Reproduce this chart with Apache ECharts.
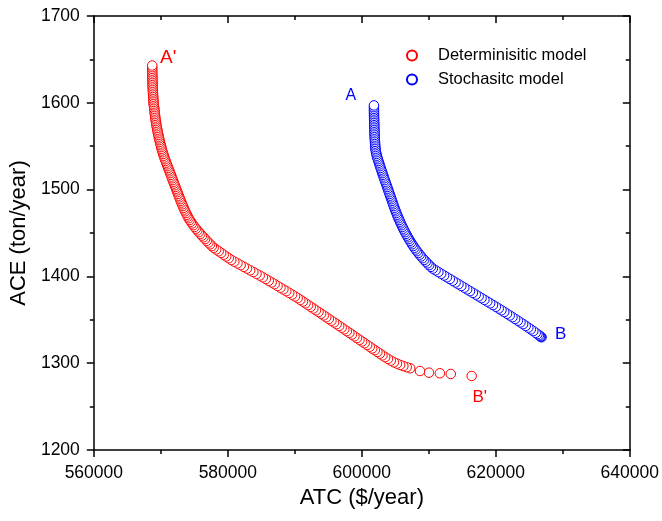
<!DOCTYPE html>
<html>
<head>
<meta charset="utf-8">
<script src="https://cdn.jsdelivr.net/npm/echarts@6/dist/echarts.min.js"></script>
<style>html,body{margin:0;padding:0;background:#fff;}#c{width:662px;height:521px;}</style>
</head>
<body>
<div id="c"></div>
<script>
// Axis settings
const xMin = 560000, xMax = 640000, xStep = 20000;
const yMin = 1200, yMax = 1700, yStep = 100;
const seriesNames = ['Determinisitic model', 'Stochasitc model'];
const endLabels = { det: ["A'", "B'"], sto: ['A', 'B'] };

// Deterministic model points [ATC, ACE], from A' (top) to B'
const deterministic = [
[568710,1643],[568712,1641],[568715,1639],[568718,1637],[568722,1635],[568727,1633],[568732,1631],[568738,1629],[568745,1627],[568752,1625],[568760,1623],[568770,1621],[568780,1619],[568790,1617],[568802,1615],[568815,1613],[568828,1611],[568842,1609],[568857,1607],[568873,1605],[568890,1603],[568908,1601],[568926,1599],[568950,1597],
[569000,1595],[569025,1593],[569052,1591],[569080,1589],[569110,1587],[569142,1585],[569176,1583],[569212,1581],[569250,1579],[569290,1577],[569332,1575],[569376,1573],[569422,1571],[569470,1569],[569520,1567],[569572,1565],[569626,1563],[569682,1561],[569740,1559],[569800,1557],[569862,1555],[569926,1553],[569992,1551],[570060,1549],[570130,1547],[570202,1545],[570276,1543],[570352,1541],
[570440,1539],[570530,1537],[570622,1535],[570715,1533],[570810,1531],[570906,1529],[571003,1527],[571100,1525],[571198,1523],[571296,1521],[571394,1519],[571492,1517],[571590,1515],[571688,1513],[571786,1511],[571884,1509],[571982,1507],[572080,1505],[572178,1503],[572276,1501],[572374,1499],[572472,1497],[572570,1495],[572670,1493],[572770,1491],[572872,1489],[572975,1487],[573080,1485],[573186,1483],[573295,1481],[573406,1479],[573520,1477],[573638,1475],[573760,1473],
[573886,1471],[574020,1469],[574165,1467],[574320,1465],[574485,1463],[574660,1461],[574845,1459],[575040,1457],[575245,1455],[575460,1453],[575680,1451],[575905,1449],[576135,1447],[576370,1445],[576610,1443],[576855,1441],[577105,1439],[577360,1437],[577620,1435],[577890,1433],
[578270,1431],[578640,1429],[579010,1427],[579385,1425],[579760,1423],[580140,1421],[580520,1419],[580975,1417],[581440,1415],[581910,1413],[582385,1411],[582860,1409],[583335,1407],[583810,1405],[584285,1403],[584760,1401],[585230,1399],[585670,1397],[586110,1395],[586550,1393],[586990,1391],[587425,1389],[587860,1387],[588295,1385],[588730,1383],[589165,1381],[589600,1379],[590035,1377],[590430,1375],[590820,1373],[591210,1371],[591600,1369],[591990,1367],[592380,1365],[592770,1363],[593160,1361],[593545,1359],[593930,1357],[594315,1355],[594700,1353],[595085,1351],[595470,1349],[595855,1347],[596240,1345],[596620,1343],[597000,1341],[597380,1339],[597760,1337],[598140,1335],[598520,1333],[598900,1331],[599280,1329],[599660,1327],[600040,1325],[600420,1323],[600800,1321],[601180,1319],[601560,1317],[601940,1315],[602320,1313],[602700,1311],
[603090,1309],[603490,1307],[603900,1305],[604330,1303],[604790,1301],[605250,1299.5],[605720,1298],[606200,1296.7],[606700,1295.4],[607220,1294.2],[608680,1291.0],[610020,1289.1],[611650,1288.4],[613280,1287.6],[616400,1285.3]
];

// Stochastic model points [ATC, ACE], from A (top) to B
const stochastic = [
[601810,1597],[601811,1595],[601813,1593],[601815,1591],[601818,1589],[601821,1587],[601825,1585],[601829,1583],[601834,1581],[601839,1579],[601845,1577],[601852,1575],[601860,1573],[601868,1571],[601877,1569],[601887,1567],[601898,1565],[601910,1563],[601922,1561],[601936,1559],[601950,1557],[601965,1555],[601981,1553],[601998,1551],[602016,1549],
[602040,1547],[602075,1545],[602120,1543],[602175,1541],[602240,1539],[602312,1537],[602390,1535],[602470,1533],[602552,1531],[602636,1529],[602720,1527],[602806,1525],[602892,1523],[602980,1521],[603068,1519],[603156,1517],[603245,1515],[603335,1513],[603425,1511],[603515,1509],[603605,1507],[603695,1505],[603785,1503],[603875,1501],[603965,1499],[604055,1497],[604145,1495],[604235,1493],[604325,1491],[604415,1489],[604505,1487],[604595,1485],[604686,1483],[604778,1481],[604870,1479],[604964,1477],
[605062,1475],[605162,1473],[605265,1471],[605370,1469],[605478,1467],[605590,1465],[605705,1463],[605822,1461],[605942,1459],[606065,1457],[606192,1455],[606322,1453],[606456,1451],[606594,1449],[606736,1447],[606882,1445],[607032,1443],[607186,1441],[607345,1439],[607510,1437],[607680,1435],[607856,1433],[608040,1431],[608232,1429],[608432,1427],[608640,1425],[608856,1423],[609080,1421],[609312,1419],[609552,1417],[609800,1415],[610056,1413],[610320,1411],[610600,1409],
[611010,1407],[611430,1405],[611855,1403],[612280,1401],[612710,1399],[613140,1397],[613570,1395],[614000,1393],[614430,1391],[614860,1389],[615290,1387],[615720,1385],[616150,1383],[616580,1381],[617010,1379],[617440,1377],[617870,1375],[618300,1373],[618730,1371],[619160,1369],[619590,1367],[620015,1365],[620435,1363],[620850,1361],[621262,1359],[621672,1357],[622080,1355],[622485,1353],[622888,1351],[623288,1349],[623685,1347],[624078,1345],[624466,1343],[624850,1341],[625228,1339],[625598,1337],[625955,1335],[626215,1333.5],[626430,1332.2],[626600,1331.2],[626720,1330.5],[626834,1329.9]
];

const FONT = "'Liberation Sans', Arial, sans-serif";
const RED = '#ff0000', BLUE = '#0000ff';

function endMark(pt, text, color, off, size) {
  return {
    coord: pt, value: text, symbol: 'circle', symbolSize: 1,
    itemStyle: { color: 'rgba(0,0,0,0)', borderWidth: 0 },
    label: { show: true, position: 'inside', formatter: text, color: color, fontSize: size, fontFamily: FONT, offset: off }
  };
}

function makeSeries(name, pts, color, labels, offs, sizes) {
  return {
    name: name, type: 'scatter', xAxisIndex: 0, yAxisIndex: 0,
    data: pts.slice().reverse(),
    symbol: 'circle', symbolSize: 9.5,
    itemStyle: { color: '#fff', borderColor: color, borderWidth: 1, opacity: 1 },
    emphasis: { disabled: true },
    silent: true, animation: false,
    markPoint: {
      silent: true, animation: false,
      data: [
        endMark(pts[0], labels[0], color, offs[0], sizes[0]),
        endMark(pts[pts.length - 1], labels[1], color, offs[1], sizes[1])
      ]
    }
  };
}

const axisCommon = {
  axisLine: { show: true, onZero: false, lineStyle: { color: '#000', width: 1.5 } },
  splitLine: { show: false },
  minorSplitLine: { show: false }
};
const plainNum = v => String(v);

const chart = echarts.init(document.getElementById('c'), null, { renderer: 'canvas' });
chart.setOption({
  animation: false,
  backgroundColor: '#fff',
  grid: { left: 92, right: 31, top: 16, bottom: 71, containLabel: false },
  legend: {
    orient: 'vertical', left: 406, top: 47, padding: 0, itemGap: 7,
    itemWidth: 10, itemHeight: 10,
    data: seriesNames,
    textStyle: { fontFamily: FONT, fontSize: 16.5, color: '#000', padding: [0, 0, 0, 16] },
    selectedMode: false
  },
  xAxis: [
    Object.assign({}, axisCommon, {
      type: 'value', position: 'bottom', min: xMin, max: xMax, interval: xStep,
      name: 'ATC ($/year)', nameLocation: 'middle', nameGap: 36,
      nameTextStyle: { fontFamily: FONT, fontSize: 22, color: '#000' },
      axisTick: { show: true, inside: false, length: 7, lineStyle: { color: '#000', width: 1.5 } },
      minorTick: { show: true, splitNumber: 2, length: 4, lineStyle: { color: '#000', width: 1.5 } },
      axisLabel: { show: true, margin: 14, fontFamily: FONT, fontSize: 17.5, color: '#000', formatter: plainNum }
    }),
    Object.assign({}, axisCommon, {
      type: 'value', position: 'top', min: xMin, max: xMax, interval: xStep,
      axisTick: { show: true, inside: true, length: 7, lineStyle: { color: '#000', width: 1.5 } },
      minorTick: { show: true, splitNumber: 2, length: 4, lineStyle: { color: '#000', width: 1.5 } },
      axisLabel: { show: false }
    })
  ],
  yAxis: [
    Object.assign({}, axisCommon, {
      type: 'value', position: 'left', min: yMin, max: yMax, interval: yStep,
      name: 'ACE (ton/year)', nameLocation: 'middle', nameGap: 59,
      nameTextStyle: { fontFamily: FONT, fontSize: 22, color: '#000' },
      axisTick: { show: true, inside: false, length: 7, lineStyle: { color: '#000', width: 1.5 } },
      minorTick: { show: true, splitNumber: 2, length: 4, lineStyle: { color: '#000', width: 1.5 } },
      axisLabel: { show: true, margin: 14, fontFamily: FONT, fontSize: 17.5, color: '#000', formatter: plainNum }
    }),
    Object.assign({}, axisCommon, {
      type: 'value', position: 'right', min: yMin, max: yMax, interval: yStep,
      axisTick: { show: true, inside: true, length: 7, lineStyle: { color: '#000', width: 1.5 } },
      minorTick: { show: true, splitNumber: 2, length: 4, lineStyle: { color: '#000', width: 1.5 } },
      axisLabel: { show: false }
    })
  ],
  series: [
    makeSeries(seriesNames[0], deterministic, RED, endLabels.det, [[16, -8], [8, 21]], [19, 17]),
    makeSeries(seriesNames[1], stochastic, BLUE, endLabels.sto, [[-23, -10], [19, -3]], [16, 17])
  ]
});
</script>
</body>
</html>
